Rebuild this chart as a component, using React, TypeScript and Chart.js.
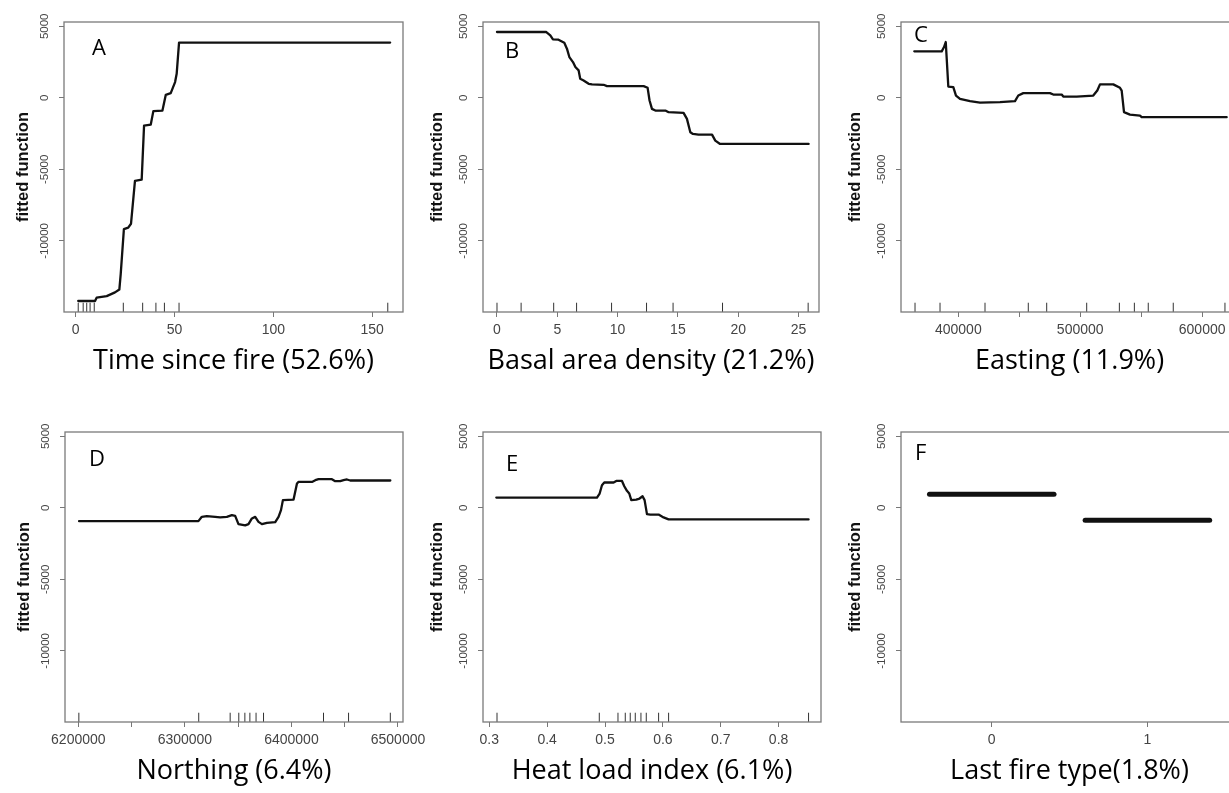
import React, { useEffect, useRef } from "react";
import { Chart, registerables } from "chart.js";

Chart.register(...registerables);

// ---------------- data ----------------
const yLimits = [-14970, 5300];
const yTickValues = [-10000, -5000, 0, 5000];
const yTickLabels = ["-10000", "-5000", "0", "5000"];

const timeSinceFireX = [1.3, 9.8, 10.6, 15.7, 19.9, 22.1, 22.8, 24.4, 26.6, 28.0, 30.0, 33.4, 34.6, 38.0, 39.3, 43.9, 45.6, 48.1, 50.3, 51.1, 52.3, 159.1];
const timeSinceFireY = [-14200, -14200, -13970, -13860, -13600, -13400, -12300, -9180, -9070, -8800, -5800, -5720, -1940, -1870, -930, -890, 210, 330, 1100, 1680, 3860, 3860];
const timeSinceFireRug = [1.3, 3.8, 5.6, 7.3, 9.4, 24.1, 33.9, 40.6, 44.9, 52.3, 157.9];

const basalAreaX = [0, 4.09, 4.42, 4.64, 5.1, 5.58, 5.8, 6.0, 6.3, 6.5, 6.77, 6.9, 7.18, 7.6, 7.88, 8.84, 9.12, 12.16, 12.49, 12.65, 12.85, 13.13, 13.96, 14.23, 15.47, 15.75, 16.03, 16.25, 16.71, 17.83, 18.1, 18.5, 25.84];
const basalAreaY = [4600, 4600, 4370, 4090, 4065, 3855, 3435, 2850, 2500, 2150, 1916, 1332, 1215, 981, 935, 911, 818, 818, 700, -187, -771, -888, -888, -1005, -1051, -1472, -2406, -2523, -2570, -2570, -2990, -3224, -3224];
const basalAreaRug = [0, 2.0, 4.7, 6.6, 9.5, 12.4, 14.6, 18.7, 25.8];

const eastingX = [363900, 386400, 388300, 389700, 390500, 391800, 395900, 398100, 401400, 409600, 417800, 434200, 446500, 449200, 453300, 475200, 477900, 484800, 486100, 497100, 510700, 514000, 516200, 527100, 532600, 534000, 535900, 540800, 549000, 550400, 620100];
const eastingY = [3250, 3250, 3550, 3900, 2730, 790, 750, 160, -70, -230, -330, -300, -230, 160, 330, 330, 230, 230, 90, 90, 160, 510, 940, 940, 700, 510, -1000, -1170, -1240, -1350, -1350];
const eastingRug = [364500, 385000, 421900, 457400, 472500, 505300, 532100, 544400, 555800, 576300, 618700];

const northingX = [6200700, 6312700, 6315900, 6320600, 6328400, 6333100, 6339400, 6344100, 6347200, 6350300, 6356600, 6359700, 6362900, 6366000, 6369100, 6372300, 6377000, 6384800, 6387900, 6390200, 6392000, 6402000, 6405200, 6406700, 6419300, 6422400, 6425400, 6438000, 6441100, 6445800, 6448900, 6452100, 6455200, 6492800];
const northingY = [-930, -930, -630, -580, -630, -670, -630, -510, -560, -1140, -1230, -1140, -740, -630, -980, -1140, -1050, -1000, -630, -160, 540, 580, 1700, 1810, 1810, 1930, 2000, 2000, 1860, 1860, 1930, 1980, 1910, 1910];
const northingRug = [6200500, 6313000, 6342500, 6350600, 6356300, 6361000, 6366800, 6373800, 6430100, 6453600, 6492800];

const heatLoadX = [0.3121, 0.4861, 0.4907, 0.4947, 0.4987, 0.5148, 0.5195, 0.5293, 0.5333, 0.5379, 0.5419, 0.5454, 0.554, 0.5597, 0.5649, 0.5684, 0.5725, 0.5782, 0.5926, 0.6012, 0.6099, 0.8518];
const heatLoadY = [720, 720, 1000, 1580, 1770, 1770, 1880, 1880, 1510, 1190, 1000, 540, 580, 650, 810, 540, -440, -470, -470, -670, -810, -810];
const heatLoadRug = [0.3133, 0.4901, 0.5224, 0.535, 0.5436, 0.5523, 0.5621, 0.5713, 0.5926, 0.6099, 0.8518];

const lastFireCategories = [0, 1];
const lastFireValues = [950, -860];

const panelLetters = ["A", "B", "C", "D", "E", "F"];
const xTitles = [
  "Time since fire (52.6%)",
  "Basal area density (21.2%)",
  "Easting (11.9%)",
  "Northing (6.4%)",
  "Heat load index (6.1%)",
  "Last fire type(1.8%)",
];
const xLimits = [
  [-5.9, 165.6],
  [-1.16, 26.7],
  [353000, 629400],
  [6187500, 6504700],
  [0.2891, 0.8733],
  [-0.583, 1.582],
];
const xTickValues = [
  [0, 50, 100, 150],
  [0, 5, 10, 15, 20, 25],
  [400000, 450000, 500000, 550000, 600000],
  [6200000, 6250000, 6300000, 6350000, 6400000, 6450000, 6500000],
  [0.3, 0.4, 0.5, 0.6, 0.7, 0.8],
  [0, 1],
];
const xTickLabels = [
  ["0", "50", "100", "150"],
  ["0", "5", "10", "15", "20", "25"],
  ["400000", "", "500000", "", "600000"],
  ["6200000", "", "6300000", "", "6400000", "", "6500000"],
  ["0.3", "0.4", "0.5", "0.6", "0.7", "0.8"],
  ["0", "1"],
];

// ---------------- layout / style ----------------
const Y_AXIS_W = 64;
const PAD_TOP = 22;
const PAD_RIGHT = 40;
const X_AXIS_H = 66;

const boxes = [
  { left: 64, top: 22, right: 403, bottom: 312, letterDx: 28, letterDy: 33, yTitleDx: 41 },
  { left: 483, top: 22, right: 819, bottom: 312, letterDx: 22, letterDy: 36, yTitleDx: 46 },
  { left: 901, top: 22, right: 1238, bottom: 312, letterDx: 13, letterDy: 20, yTitleDx: 46 },
  { left: 65, top: 432, right: 403, bottom: 722, letterDx: 24, letterDy: 34, yTitleDx: 41 },
  { left: 483, top: 432, right: 821, bottom: 722, letterDx: 23, letterDy: 39, yTitleDx: 46 },
  { left: 901, top: 432, right: 1238, bottom: 722, letterDx: 14, letterDy: 28, yTitleDx: 46 },
];

const TICK_FONT = "Liberation Sans";
const TITLE_FONT = "Open Sans";

type Pt = { x: number; y: number | null };

function curve(xs: number[], ys: number[]): Pt[] {
  return xs.map((x, i) => ({ x, y: ys[i] }));
}

function rug(values: number[]): Pt[] {
  const len = 0.032 * (yLimits[1] - yLimits[0]);
  const out: Pt[] = [];
  values.forEach((v) => {
    out.push({ x: v, y: yLimits[0] });
    out.push({ x: v, y: yLimits[0] + len });
    out.push({ x: v, y: null });
  });
  return out;
}

function buildDatasets(i: number): any[] {
  const lineDs = (data: Pt[], width: number) => ({
    data,
    borderColor: "#111",
    borderWidth: width,
    pointRadius: 0,
    tension: 0,
    spanGaps: false,
    borderJoinStyle: "round",
    borderCapStyle: "round",
  });
  const rugDs = (data: Pt[]) => ({
    data,
    borderColor: "#333",
    borderWidth: 1,
    pointRadius: 0,
    spanGaps: false,
  });
  switch (i) {
    case 0:
      return [lineDs(curve(timeSinceFireX, timeSinceFireY), 2.3), rugDs(rug(timeSinceFireRug))];
    case 1:
      return [lineDs(curve(basalAreaX, basalAreaY), 2.3), rugDs(rug(basalAreaRug))];
    case 2:
      return [lineDs(curve(eastingX, eastingY), 2.3), rugDs(rug(eastingRug))];
    case 3:
      return [lineDs(curve(northingX, northingY), 2.3), rugDs(rug(northingRug))];
    case 4:
      return [lineDs(curve(heatLoadX, heatLoadY), 2.3), rugDs(rug(heatLoadRug))];
    default:
      return lastFireCategories.map((c, k) =>
        lineDs(
          [
            { x: c - 0.4, y: lastFireValues[k] },
            { x: c + 0.4, y: lastFireValues[k] },
          ],
          5
        )
      );
  }
}

function Panel({ index }: { index: number }) {
  const ref = useRef<HTMLCanvasElement | null>(null);
  const b = boxes[index];
  const width = b.right - b.left + Y_AXIS_W + PAD_RIGHT;
  const height = PAD_TOP + (b.bottom - b.top) + X_AXIS_H;

  useEffect(() => {
    if (!ref.current) return;
    const decoPlugin = {
      id: "rDeco" + index,
      afterDatasetsDraw(chart: any) {
        const { ctx, chartArea } = chart;
        ctx.save();
        // frame (box)
        ctx.strokeStyle = "#7a7a7a";
        ctx.lineWidth = 1.3;
        ctx.strokeRect(chartArea.left, chartArea.top, chartArea.right - chartArea.left, chartArea.bottom - chartArea.top);
        // panel letter
        ctx.fillStyle = "#000";
        ctx.font = `22px "${TITLE_FONT}"`;
        ctx.textAlign = "left";
        ctx.textBaseline = "alphabetic";
        ctx.fillText(panelLetters[index], chartArea.left + b.letterDx, chartArea.top + b.letterDy);
        // rotated y tick labels (R style, las = 0)
        const ys = chart.scales.y;
        ctx.fillStyle = "#444";
        ctx.font = `11.5px "${TICK_FONT}"`;
        ctx.textAlign = "center";
        ys.ticks.forEach((t: any, k: number) => {
          const py = ys.getPixelForValue(t.value);
          ctx.save();
          ctx.translate(chartArea.left - 16, py);
          ctx.rotate(-Math.PI / 2);
          ctx.fillText(yTickLabels[k] ?? String(t.value), 0, 0);
          ctx.restore();
        });
        ctx.restore();
      },
    };

    const chart = new Chart(ref.current, {
      type: "line",
      data: { datasets: buildDatasets(index) },
      options: {
        animation: false,
        responsive: false,
        maintainAspectRatio: false,
        layout: { padding: { left: 0, top: PAD_TOP, right: PAD_RIGHT, bottom: 0 } },
        plugins: { legend: { display: false }, tooltip: { enabled: false }, title: { display: false } },
        events: [],
        scales: {
          x: {
            type: "linear",
            position: "bottom",
            min: xLimits[index][0],
            max: xLimits[index][1],
            border: { display: false },
            grid: { display: true, drawOnChartArea: false, drawTicks: true, tickLength: 5, color: "#777", lineWidth: 1 },
            afterBuildTicks: (s: any) => {
              s.ticks = xTickValues[index].map((v) => ({ value: v }));
            },
            ticks: {
              autoSkip: false,
              minRotation: 0,
              maxRotation: 0,
              padding: 4.5,
              color: "#444",
              font: { family: TICK_FONT, size: 14 },
              callback: (_v: any, k: number) => xTickLabels[index][k] ?? "",
            },
            title: {
              display: true,
              text: xTitles[index],
              color: "#000",
              font: { family: TITLE_FONT, size: 27 },
              padding: { top: 0, bottom: 0 },
            },
            afterFit: (s: any) => {
              s.height = X_AXIS_H;
            },
          },
          y: {
            type: "linear",
            position: "left",
            min: yLimits[0],
            max: yLimits[1],
            border: { display: false },
            grid: { display: true, drawOnChartArea: false, drawTicks: true, tickLength: 5, color: "#777", lineWidth: 1 },
            afterBuildTicks: (s: any) => {
              s.ticks = yTickValues.map((v) => ({ value: v }));
            },
            ticks: { display: false },
            title: {
              display: true,
              text: "fitted function",
              color: "#111",
              font: { family: TICK_FONT, size: 16.5, weight: "bold" },
              padding: { top: Y_AXIS_W - b.yTitleDx - 9.9, bottom: 0 },
            },
            afterFit: (s: any) => {
              s.width = Y_AXIS_W;
            },
          },
        },
      } as any,
      plugins: [decoPlugin],
    });
    return () => chart.destroy();
  }, [index]);

  return (
    <canvas
      ref={ref}
      width={width}
      height={height}
      style={{
        position: "absolute",
        left: b.left - Y_AXIS_W,
        top: b.top - PAD_TOP,
        width,
        height,
      }}
    />
  );
}

export default function App() {
  return (
    <div
      style={{
        position: "absolute",
        left: 0,
        top: 0,
        width: 1229,
        height: 793,
        overflow: "hidden",
        background: "#fff",
      }}
    >
      {boxes.map((_, i) => (
        <Panel key={i} index={i} />
      ))}
    </div>
  );
}
